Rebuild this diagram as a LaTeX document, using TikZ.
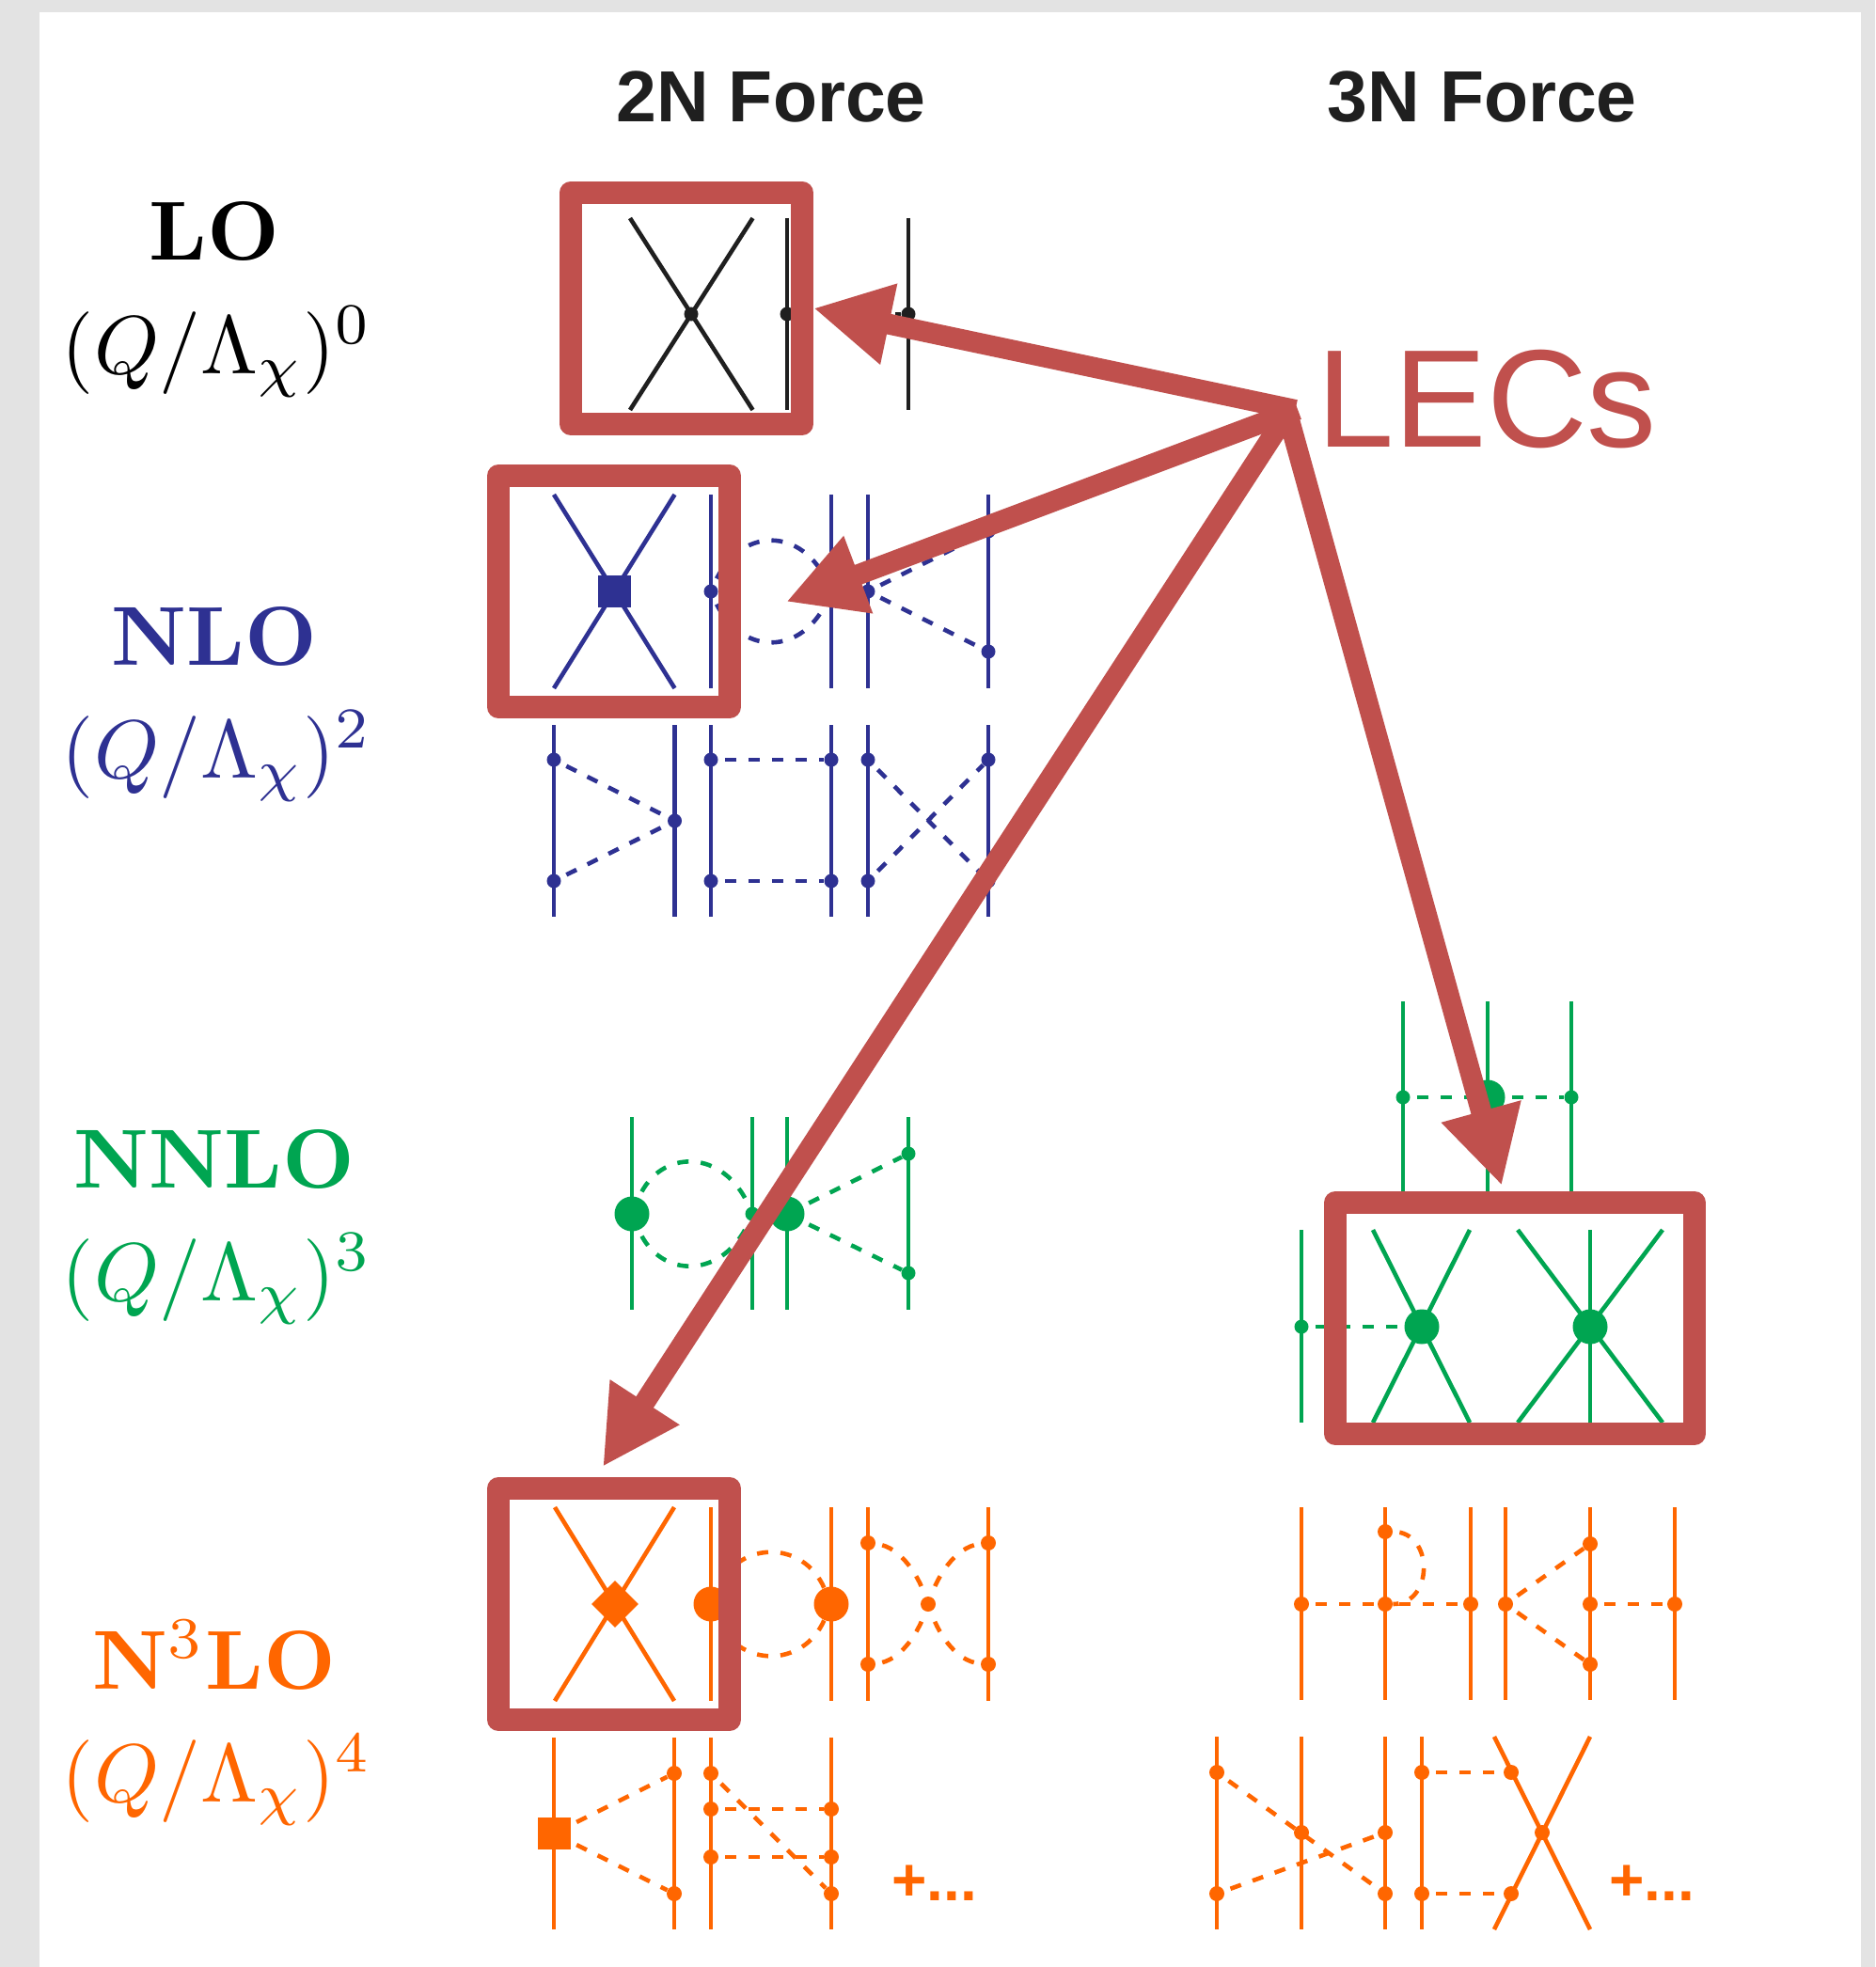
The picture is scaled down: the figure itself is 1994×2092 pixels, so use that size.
\RequirePackage{fix-cm}
\documentclass[tikz,border=0pt]{standalone}
\usepackage[no-math]{fontspec}
\newfontfamily\arialish{Liberation Sans}
\usetikzlibrary{arrows.meta,shapes.geometric}
\definecolor{lecred}{HTML}{C0504D}
\definecolor{nloblue}{HTML}{2E3192}
\definecolor{nnlogreen}{HTML}{00A551}
\definecolor{nthreeorange}{HTML}{FF6600}
\definecolor{pagegrey}{HTML}{E3E3E3}
\tikzset{
  fer/.style={line width=2.3pt,line cap=butt},
  pion/.style={line width=2.3pt,dash pattern=on 6pt off 6.5pt,dash phase=9pt},
  vtx/.style={circle,fill,inner sep=0pt,minimum size=7.5pt},
  bigvtx/.style={circle,fill,inner sep=0pt,minimum size=18.5pt},
  sqvtx/.style={rectangle,fill,inner sep=0pt,minimum width=17.5pt,minimum height=17pt},
  diavtx/.style={diamond,fill,inner sep=0pt,minimum width=25pt,minimum height=25pt},
  lecbox/.style={draw=lecred,line width=12pt,line join=round,rectangle,inner sep=0pt,minimum width=123pt,minimum height=123pt},
  lecarrow/.style={draw=lecred,line width=11pt,line cap=butt,-{Triangle[length=41pt,width=41pt,fill=lecred]}},
  order/.style={anchor=base},
  powerlab/.style={anchor=base},
  forcehead/.style={font=\arialish\bfseries\fontsize{38.5}{38.5}\selectfont,anchor=base,text=black!88},
  moreterms/.style={font=\arialish\bfseries\fontsize{32}{32}\selectfont,anchor=base west,text=nthreeorange},
}
\newcommand\ordertxt[1]{\scalebox{4.45}{\fontsize{10}{12}\selectfont\bfseries #1}}
\newcommand\powertxt[1]{\scalebox{4.39}{\fontsize{10}{12}\selectfont $(Q/\Lambda_\chi)^{#1}$}}
\newcommand\fleg[4]{\coordinate (#1t) at (#2,#3); \coordinate (#1b) at (#2,#4); \draw[fer] (#1t) -- (#1b);}
\newcommand\fcross[5]{\coordinate (#1tl) at (#2,#4); \coordinate (#1br) at (#3,#5); \coordinate (#1bl) at (#2,#5); \coordinate (#1tr) at (#3,#4); \draw[fer] (#1tl) -- (#1br); \draw[fer] (#1bl) -- (#1tr);}
\begin{document}
\begin{tikzpicture}[x=0.5pt,y=-0.5pt]
\useasboundingbox (0,0) rectangle (1994,2092);
\fill[pagegrey] (0,0) rectangle (1994,2092);
\fill[white] (42,13) rectangle (1979,2092);

% headings
\node[forcehead] (h2n) at (820,130) {2N Force};
\node[forcehead] (h3n) at (1576,130) {3N Force};

% order labels
\node[order] (tlo) at (228,277) {\ordertxt{LO}};
\node[powerlab] (plo) at (231,397) {\powertxt{0}};
\node[order,text=nloblue] (tnlo) at (228,707) {\ordertxt{NLO}};
\node[powerlab,text=nloblue] (pnlo) at (231,827) {\powertxt{2}};
\node[order,text=nnlogreen] (tnnlo) at (228,1263) {\ordertxt{NNLO}};
\node[powerlab,text=nnlogreen] (pnnlo) at (231,1383) {\powertxt{3}};
\node[order,text=nthreeorange] (tn3lo) at (228,1796) {\ordertxt{N$^3$LO}};
\node[powerlab,text=nthreeorange] (pn3lo) at (231,1916) {\powertxt{4}};

% LO
\begin{scope}[color=black!88]
\fcross{a}{670}{800.5}{232}{436}
\fleg{b}{837}{232}{436}
\fleg{c}{966}{232}{436}
\node[vtx] (av) at (735,334) {};
\node[vtx] (bv) at (837,334) {};
\node[vtx] (cv) at (966,334) {};
\draw[pion] (bv) -- (cv);
\end{scope}

% NLO
\begin{scope}[color=nloblue]
\fcross{d}{589}{717.5}{526}{732}
\node[sqvtx] (dv) at (653,629) {};
\fleg{e}{756}{526}{732}
\fleg{f}{884}{526}{732}
\fleg{g}{923}{526}{732}
\fleg{h}{1051}{526}{732}
\node[vtx] (ev) at (756,629) {};
\node[vtx] (fv) at (884,629) {};
\node[vtx] (gv) at (923,629) {};
\node[vtx] (hu) at (1051,565) {};
\node[vtx] (hd) at (1051,693) {};
\draw[pion] (ev) .. controls +(30,-70) and +(-30,-70) .. (fv);
\draw[pion] (ev) .. controls +(30,70) and +(-30,70) .. (fv);
\draw[pion] (gv) -- (hu);
\draw[pion] (gv) -- (hd);
\fleg{i}{589}{771}{975}
\fleg{j}{717.5}{771}{975}
\fleg{k}{756}{771}{975}
\fleg{l}{884}{771}{975}
\fleg{m}{923}{771}{975}
\fleg{n}{1051}{771}{975}
\node[vtx] (iu) at (589,808) {};
\node[vtx] (id) at (589,937) {};
\node[vtx] (jv) at (717.5,873) {};
\draw[pion] (iu) -- (jv);
\draw[pion] (id) -- (jv);
\node[vtx] (ku) at (756,808) {};
\node[vtx] (kd) at (756,937) {};
\node[vtx] (lu) at (884,808) {};
\node[vtx] (ld) at (884,937) {};
\draw[pion] (ku) -- (lu);
\draw[pion] (kd) -- (ld);
\node[vtx] (mu) at (923,808) {};
\node[vtx] (md) at (923,937) {};
\node[vtx] (nu) at (1051,808) {};
\node[vtx] (nd) at (1051,937) {};
\draw[pion] (mu) -- (nd);
\draw[pion] (md) -- (nu);
\end{scope}

% NNLO
\begin{scope}[color=nnlogreen]
\fleg{o}{672}{1188}{1393}
\fleg{p}{800}{1188}{1393}
\fleg{q}{837}{1188}{1393}
\fleg{r}{966}{1188}{1393}
\node[bigvtx] (ov) at (672,1291) {};
\node[vtx] (pv) at (800,1291) {};
\node[bigvtx] (qv) at (837,1291) {};
\node[vtx] (ru) at (966,1227) {};
\node[vtx] (rd) at (966,1354) {};
\draw[pion] (ov) .. controls +(30,-70) and +(-30,-70) .. (pv);
\draw[pion] (ov) .. controls +(30,70) and +(-30,70) .. (pv);
\draw[pion] (qv) -- (ru);
\draw[pion] (qv) -- (rd);
\fleg{s}{1492}{1065}{1267}
\fleg{t}{1582}{1065}{1267}
\fleg{u}{1671}{1065}{1267}
\node[vtx] (sv) at (1492,1167) {};
\node[bigvtx] (tv) at (1582,1167) {};
\node[vtx] (uv) at (1671,1167) {};
\draw[pion] (sv) -- (tv);
\draw[pion] (tv) -- (uv);
\fleg{v}{1384}{1308}{1513}
\fcross{w}{1460}{1563}{1308}{1513}
\node[vtx] (vv) at (1384,1411) {};
\node[bigvtx] (wv) at (1512,1411) {};
\draw[pion] (vv) -- (wv);
\fcross{y}{1614}{1768}{1308}{1513}
\fleg{z}{1691}{1308}{1513}
\node[bigvtx] (yv) at (1691,1411) {};
\end{scope}

% N3LO, 2N
\begin{scope}[color=nthreeorange]
\fcross{aa}{590}{717}{1603}{1809}
\node[diavtx] (aav) at (654,1706) {};
\fleg{ab}{756}{1603}{1809}
\fleg{ac}{884}{1603}{1809}
\node[bigvtx] (abv) at (756,1706) {};
\node[bigvtx] (acv) at (884,1706) {};
\draw[pion] (abv) .. controls +(30,-68) and +(-30,-68) .. (acv);
\draw[pion] (abv) .. controls +(30,68) and +(-30,68) .. (acv);
\fleg{ad}{923}{1603}{1809}
\fleg{ae}{1051}{1603}{1809}
\node[vtx,minimum size=8pt] (adu) at (923,1641) {};
\node[vtx,minimum size=8pt] (add) at (923,1770) {};
\node[vtx,minimum size=8pt] (aeu) at (1051,1641) {};
\node[vtx,minimum size=8pt] (aed) at (1051,1770) {};
\node[vtx,minimum size=8pt] (afv) at (987,1706) {};
\draw[pion] (adu) .. controls (960,1645) and (978,1680) .. (afv);
\draw[pion] (aeu) .. controls (1014,1645) and (996,1680) .. (afv);
\draw[pion] (add) .. controls (960,1767) and (978,1732) .. (afv);
\draw[pion] (aed) .. controls (1014,1767) and (996,1732) .. (afv);
\fleg{ag}{589}{1848}{2052}
\fleg{ah}{717}{1848}{2052}
\node[sqvtx] (agv) at (589,1950) {};
\node[vtx,minimum size=8pt] (ahu) at (717,1886) {};
\node[vtx,minimum size=8pt] (ahd) at (717,2014) {};
\draw[pion] (agv) -- (ahu);
\draw[pion] (agv) -- (ahd);
\fleg{ai}{756}{1848}{2052}
\fleg{aj}{884}{1848}{2052}
\node[vtx,minimum size=8pt] (ai1) at (756,1886) {};
\node[vtx,minimum size=8pt] (ai2) at (756,1924) {};
\node[vtx,minimum size=8pt] (ai3) at (756,1975) {};
\node[vtx,minimum size=8pt] (aj2) at (884,1924) {};
\node[vtx,minimum size=8pt] (aj3) at (884,1975) {};
\node[vtx,minimum size=8pt] (aj4) at (884,2014) {};
\draw[pion] (ai1) -- (aj4);
\draw[pion] (ai2) -- (aj2);
\draw[pion] (ai3) -- (aj3);
\node[moreterms] (more2) at (941,2021) {+...};

% N3LO, 3N
\fleg{ba}{1384}{1603}{1808}
\fleg{bb}{1473}{1603}{1808}
\fleg{bc}{1564}{1603}{1808}
\fleg{bd}{1601}{1603}{1808}
\fleg{be}{1691}{1603}{1808}
\fleg{bf}{1781}{1603}{1808}
\node[vtx,minimum size=8pt] (bav) at (1384,1706) {};
\node[vtx,minimum size=8pt] (bbu) at (1473,1629) {};
\node[vtx,minimum size=8pt] (bbv) at (1473,1706) {};
\node[vtx,minimum size=8pt] (bcv) at (1564,1706) {};
\node[vtx,minimum size=8pt] (bdv) at (1601,1706) {};
\node[vtx,minimum size=8pt] (beu) at (1691,1642) {};
\node[vtx,minimum size=8pt] (bev) at (1691,1706) {};
\node[vtx,minimum size=8pt] (bed) at (1691,1770) {};
\node[vtx,minimum size=8pt] (bfv) at (1781,1706) {};
\draw[pion] (bav) -- (bbv);
\draw[pion] (bbv) -- (bcv);
\draw[pion] (bbu) .. controls +(52,0) and +(52,0) .. (bbv);
\draw[pion] (bdv) -- (beu);
\draw[pion] (bdv) -- (bed);
\draw[pion] (bev) -- (bfv);
\fleg{ca}{1294}{1847}{2052}
\fleg{cb}{1384}{1847}{2052}
\fleg{cc}{1473}{1847}{2052}
\fleg{cd}{1512}{1847}{2052}
\fcross{ce}{1589}{1691}{1847}{2052}
\node[vtx,minimum size=8pt] (cau) at (1294,1885) {};
\node[vtx,minimum size=8pt] (cad) at (1294,2014) {};
\node[vtx,minimum size=8pt] (cbv) at (1384,1949) {};
\node[vtx,minimum size=8pt] (ccu) at (1473,1949) {};
\node[vtx,minimum size=8pt] (ccd) at (1473,2014) {};
\node[vtx,minimum size=8pt] (cdu) at (1512,1885) {};
\node[vtx,minimum size=8pt] (cdd) at (1512,2014) {};
\node[vtx,minimum size=8pt] (ceu) at (1607,1885) {};
\node[vtx,minimum size=8pt] (cev) at (1640,1949) {};
\node[vtx,minimum size=8pt] (ced) at (1607,2014) {};
\draw[pion] (cau) -- (ccd);
\draw[pion] (cad) -- (ccu);
\draw[pion] (cdu) -- (ceu);
\draw[pion] (cdd) -- (ced);
\node[moreterms] (more3) at (1704,2021) {+...};
\end{scope}

% LEC overlay
\node[lecbox] (boxlo) at (730,327.75) {};
\node[lecbox] (boxnlo) at (653,629) {};
\node[lecbox] (boxn3lo) at (653,1706) {};
\node[lecbox,minimum width=191pt] (boxnnlo) at (1611,1402) {};
\node[anchor=base west,text=lecred,font=\arialish\fontsize{74}{74}\selectfont] (lecs) at (1393,475) {LECs};
\coordinate (hubA) at (1377.5,436);
\coordinate (hubB) at (1380,435.5);
\coordinate (hubC) at (1372,435);
\coordinate (hubD) at (1370,443);
\coordinate (tipB) at (836,640);
\coordinate (tipC) at (641,1560);
\coordinate (tipD) at (1597,1261);
\draw[lecarrow] (hubA) -- (boxlo.east);
\draw[lecarrow] (hubB) -- (tipB);
\draw[lecarrow] (hubC) -- (tipC);
\draw[lecarrow] (hubD) -- (tipD);
\end{tikzpicture}
\end{document}
